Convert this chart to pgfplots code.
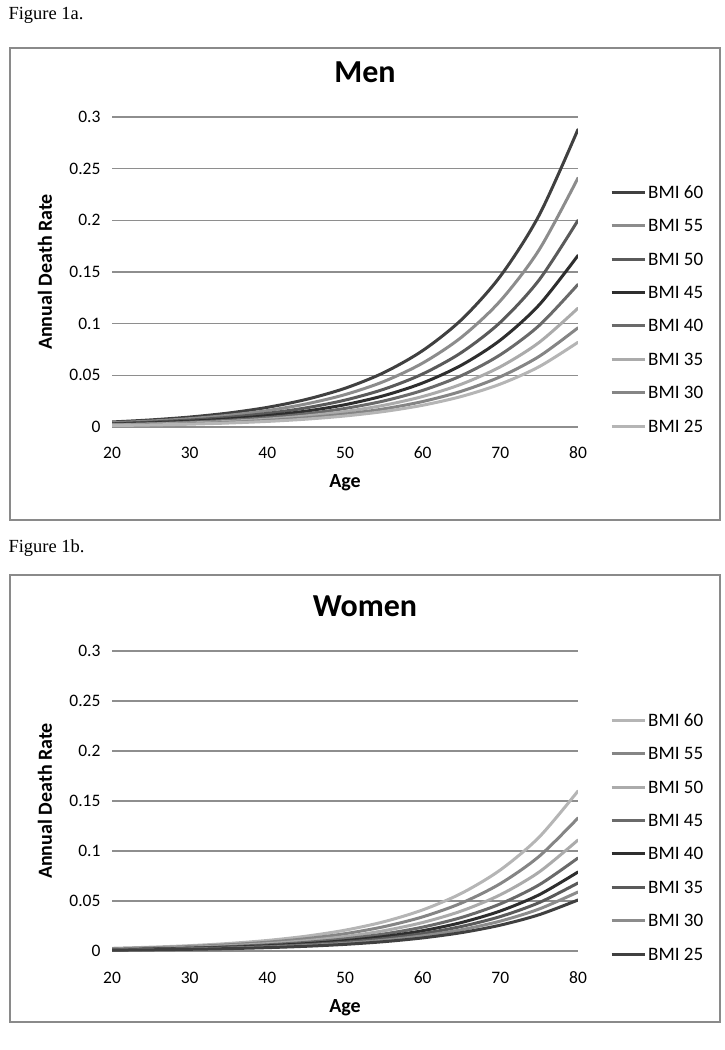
\documentclass[border=0pt]{standalone}
\usepackage{pgfplots}
\usepackage{pgfplotstable}
\pgfplotsset{compat=1.18}
\usepackage{fontspec}
\setmainfont{Carlito}
\newfontfamily\figserif{Liberation Serif}

\definecolor{cA}{HTML}{404040}
\definecolor{cB}{HTML}{8C8C8C}
\definecolor{cC}{HTML}{5A5A5A}
\definecolor{cD}{HTML}{2E2E2E}
\definecolor{cE}{HTML}{6A6A6A}
\definecolor{cF}{HTML}{ABABAB}
\definecolor{cG}{HTML}{858585}
\definecolor{cH}{HTML}{B5B5B5}
\definecolor{gridc}{HTML}{8E8E8E}
\definecolor{framec}{HTML}{8A8A8A}

\pgfplotstableread{
age b60 b55 b50 b45 b40 b35 b30 b25
20 0.00487 0.00407 0.00338 0.00281 0.00233 0.00194 0.00162 0.00139
25 0.00685 0.00574 0.00476 0.00395 0.00328 0.00274 0.00228 0.00195
30 0.00962 0.00805 0.00668 0.00554 0.00461 0.00384 0.00321 0.00274
35 0.01351 0.01130 0.00938 0.00779 0.00647 0.00539 0.00450 0.00385
40 0.01898 0.01588 0.01318 0.01094 0.00909 0.00758 0.00633 0.00540
45 0.02667 0.02232 0.01852 0.01537 0.01278 0.01065 0.00889 0.00759
50 0.03744 0.03133 0.02600 0.02158 0.01794 0.01495 0.01248 0.01066
55 0.05262 0.04403 0.03654 0.03033 0.02521 0.02101 0.01754 0.01498
60 0.07393 0.06186 0.05134 0.04261 0.03542 0.02952 0.02464 0.02105
65 0.10385 0.08690 0.07212 0.05986 0.04976 0.04147 0.03462 0.02957
70 0.14590 0.12209 0.10132 0.08410 0.06991 0.05826 0.04863 0.04154
75 0.20500 0.17154 0.14236 0.11816 0.09823 0.08186 0.06833 0.05837
80 0.28800 0.24100 0.20000 0.16600 0.13800 0.11500 0.09600 0.08200
}\men

\pgfplotstableread{
age b60 b55 b50 b45 b40 b35 b30 b25
20 0.00270 0.00225 0.00188 0.00157 0.00134 0.00115 0.00100 0.00086
25 0.00381 0.00317 0.00264 0.00221 0.00188 0.00162 0.00140 0.00121
30 0.00534 0.00444 0.00371 0.00311 0.00264 0.00227 0.00197 0.00170
35 0.00750 0.00624 0.00521 0.00436 0.00371 0.00319 0.00277 0.00239
40 0.01054 0.00876 0.00731 0.00613 0.00521 0.00448 0.00389 0.00336
45 0.01482 0.01232 0.01028 0.00861 0.00732 0.00630 0.00546 0.00472
50 0.02080 0.01729 0.01443 0.01209 0.01027 0.00884 0.00767 0.00663
55 0.02923 0.02430 0.02028 0.01699 0.01443 0.01242 0.01078 0.00932
60 0.04107 0.03414 0.02849 0.02387 0.02028 0.01746 0.01515 0.01309
65 0.05770 0.04796 0.04003 0.03354 0.02849 0.02452 0.02128 0.01839
70 0.08106 0.06738 0.05623 0.04711 0.04002 0.03445 0.02989 0.02584
75 0.11389 0.09467 0.07901 0.06620 0.05623 0.04840 0.04200 0.03630
80 0.16000 0.13300 0.11100 0.09300 0.07900 0.06800 0.05900 0.05100
}\women

\pgfplotsset{
  deathrate/.style={
    scale only axis,
    width=466pt,
    xmin=20, xmax=80, ymin=0, ymax=0.3,
    xtick={20,30,40,50,60,70,80},
    ytick={0,0.05,0.1,0.15,0.2,0.25,0.3},
    yticklabels={0,0.05,0.1,0.15,0.2,0.25,0.3},
    scaled y ticks=false,
    /pgf/number format/assume math mode=true,
    axis line style={draw=none},
    major tick length=0pt,
    ymajorgrids,
    grid style={gridc, line width=1.5pt},
    tick label style={font=\fontsize{17.5}{19}\selectfont},
    yticklabel style={xshift=-8pt},
    xticklabel style={anchor=center, yshift=-26pt, text height=12pt, text depth=0pt},
    xlabel={Age},
    ylabel={Annual Death Rate},
    label style={font=\bfseries\fontsize{20}{22}\selectfont},
    ylabel style={at={(axis description cs:-0.1438,0.5)}, anchor=center},
    title style={anchor=center, font=\bfseries\fontsize{32}{34}\selectfont},
    legend cell align=left,
    legend image code/.code={\draw[##1, line width=3pt, line cap=butt] (0pt,0pt) -- (33pt,0pt);},
    legend style={draw=none, fill=none, anchor=north west, inner sep=0pt,
      font=\fontsize{19}{21}\selectfont, row sep=19.4pt, column sep=1pt,
      nodes={inner sep=1pt, text height=12pt, text depth=0pt}},
    every axis plot/.append style={line width=3pt, line cap=round, smooth, no markers},
  }
}

\begin{document}
\begin{tikzpicture}
\useasboundingbox (0pt,0pt) rectangle (724pt,1050pt);

% Figure 1a
\draw[framec, line width=1.5pt] (10pt,530pt) rectangle (720pt,1002pt);
\node[anchor=west, font=\figserif\fontsize{18.5}{20}\selectfont] at (5pt,1035pt) {Figure 1a.};
\begin{axis}[deathrate,
  at={(112pt,623pt)}, anchor=south west, height=310pt,
  title={Men},
  title style={at={(axis description cs:0.543,1.126)}},
  xlabel style={at={(axis description cs:0.5,-0.181)}, anchor=center},
  legend style={at={(rel axis cs:1.0687,0.7806)}},
]
\addplot[cA] table[x=age,y=b60] {\men};
\addplot[cB] table[x=age,y=b55] {\men};
\addplot[cC] table[x=age,y=b50] {\men};
\addplot[cD] table[x=age,y=b45] {\men};
\addplot[cE] table[x=age,y=b40] {\men};
\addplot[cF] table[x=age,y=b35] {\men};
\addplot[cG] table[x=age,y=b30] {\men};
\addplot[cH] table[x=age,y=b25] {\men};
\legend{BMI 60,BMI 55,BMI 50,BMI 45,BMI 40,BMI 35,BMI 30,BMI 25}
\end{axis}

% Figure 1b
\draw[framec, line width=1.5pt] (10pt,28pt) rectangle (720pt,475pt);
\node[anchor=west, font=\figserif\fontsize{18.5}{20}\selectfont] at (5pt,502pt) {Figure 1b.};
\begin{axis}[deathrate,
  at={(112pt,99pt)}, anchor=south west, height=300pt,
  title={Women},
  title style={at={(axis description cs:0.543,1.13)}},
  xlabel style={at={(axis description cs:0.5,-0.19)}, anchor=center},
  legend style={at={(rel axis cs:1.0687,0.7933)}},
]
\addplot[cH] table[x=age,y=b60] {\women};
\addplot[cG] table[x=age,y=b55] {\women};
\addplot[cF] table[x=age,y=b50] {\women};
\addplot[cE] table[x=age,y=b45] {\women};
\addplot[cD] table[x=age,y=b40] {\women};
\addplot[cC] table[x=age,y=b35] {\women};
\addplot[cB] table[x=age,y=b30] {\women};
\addplot[cA] table[x=age,y=b25] {\women};
\legend{BMI 60,BMI 55,BMI 50,BMI 45,BMI 40,BMI 35,BMI 30,BMI 25}
\end{axis}
\end{tikzpicture}
\end{document}
